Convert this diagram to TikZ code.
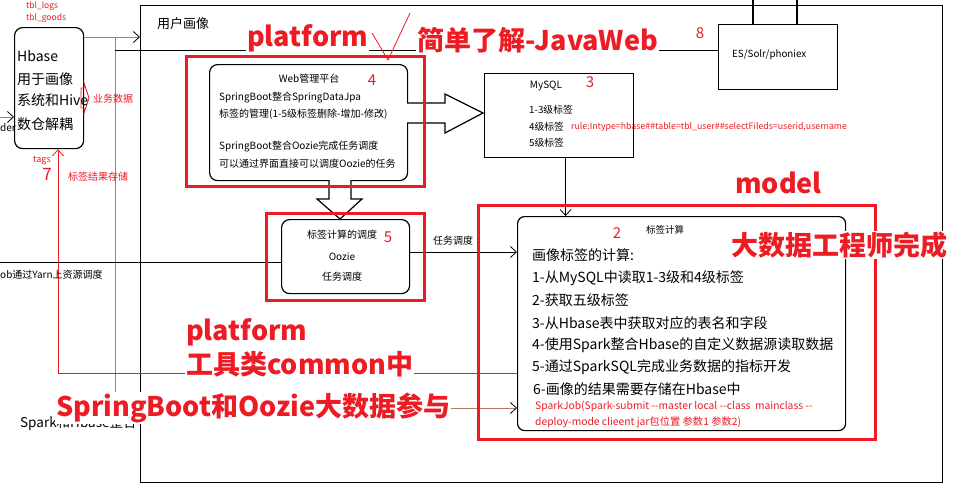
\documentclass[tikz,border=0pt]{standalone}
\usepackage{fontspec}
\setmainfont{Noto Sans CJK SC}
\usetikzlibrary{arrows.meta}
\definecolor{pred}{HTML}{ED1C24}
\definecolor{pbrown}{HTML}{B97A57}
\newcommand\fsz[1]{\fontsize{#1}{#1}\selectfont}
\begin{document}
\begin{tikzpicture}[x=1pt,y=-1pt,
  sqbox/.style={draw, line width=1.2pt, anchor=north west, inner sep=0pt},
  rbox/.style={sqbox, rounded corners=8pt},
  redframe/.style={draw=pred, line width=2.6pt, anchor=north west, inner sep=0pt},
  txt/.style={inner sep=0pt, anchor=west},
  ctxt/.style={inner sep=0pt},
  rtxt/.style={inner sep=0pt, anchor=west, text=pred},
  num/.style={inner sep=0pt, text=pred, font=\fsz{15}},
  annot/.style={inner sep=1pt, anchor=west, text=pred, fill=white, font=\bfseries\fsz{27}},
  tip/.style={-{Straight Barb[length=6pt,width=11pt,color=#1]}},
  tip/.default=black,
  conn/.style={line width=0.8pt},
  hollow/.style={draw, line width=1.2pt, fill=white}
]
\useasboundingbox (0,0) rectangle (954,501);
\fill[white] (0,0) rectangle (954,501);

% frame
\node[sqbox, minimum width=802pt, minimum height=477pt] (frame) at (140,5) {};
\node[txt, font=\fsz{13}] (title) at (157,24) {用户画像};

% boxes
\node[rbox, minimum width=69pt, minimum height=121pt] (hbase) at (14,27) {};
\node[rbox, minimum width=198pt, minimum height=116pt] (web) at (209,64) {};
\node[sqbox, minimum width=149pt, minimum height=84pt] (mysql) at (484,73) {};
\node[sqbox, minimum width=119pt, minimum height=65pt] (es) at (718,24) {};
\node[rbox, minimum width=128pt, minimum height=74pt] (oozie) at (281,219) {};
\node[rbox, rounded corners=7pt, minimum width=328pt, minimum height=214pt] (calc) at (517,216) {};

% hollow arrows
\draw[hollow] (407,103) -- (445,103) -- (445,94) -- (483,113) -- (445,133) -- (445,123) -- (407,123);
\draw[hollow] (329,180) -- (329,199) -- (317,199) -- (340,219) -- (362,199) -- (351,199) -- (351,180);

% connectors
\coordinate (bj) at (115,37);
\coordinate (bl) at (115,408);
\coordinate (hj) at (115,50);
\coordinate (rl) at (58,373);
\coordinate (oy) at (0,252);
\coordinate (yl) at (0,262);
\coordinate (dl) at (0,117);
\coordinate (e1) at (753,0);
\coordinate (e2) at (797,0);
\draw[conn, draw=pbrown, tip] (hbase.east |- bj) -- (frame.west |- bj);
\draw[conn, draw=pbrown, tip] (bj) -- (bl) -- (calc.west |- bl);
\draw[conn, draw=pbrown, tip] (dl) -- (hbase.west |- dl);
\draw[conn] (hj) -- (es.west |- hj);
\draw[conn, draw=pred, tip=pred] (calc.west |- rl) -- (rl) -- (rl |- hbase.south);
\draw[conn, tip] ([xshift=6.5pt]mysql.south) -- ([xshift=6.5pt]mysql.south |- calc.north);
\draw[conn, tip] (oozie.east |- oy) -- (calc.west |- oy);
\draw[conn] (yl) -- (oozie.west |- yl);
\draw[line width=1.2pt] (e1 |- es.north) -- (e1);
\draw[line width=1.2pt] (e2 |- es.north) -- (e2);

% red frames
\node[redframe, minimum width=238pt, minimum height=130pt] (rweb) at (185,55) {};
\node[redframe, minimum width=158pt, minimum height=87pt] (roozie) at (265,212) {};
\node[redframe, minimum width=397pt, minimum height=234pt] (rcalc) at (477,204) {};

% small red mark
\draw[pred, line width=0.9pt] (81,88) -- (84,88) -- (84,83) -- (89,98) -- (84,113) -- (84,108) -- (81,108) -- cycle;

% Hbase text
\node[txt, font=\fsz{14}] (h1) at (17,56) {Hbase};
\node[txt, font=\fsz{14}] (h2) at (17,79) {用于画像};
\node[txt, font=\fsz{14}] (h3) at (17,100) {系统和Hive};
\node[txt, font=\fsz{14}] (h4) at (17,124) {数仓解耦};
\node[rtxt, font=\fsz{8.5}] (tl1) at (26,6) {tbl\_logs};
\node[rtxt, font=\fsz{8.5}] (tl2) at (26,18) {tbl\_goods};
\node[rtxt, font=\fsz{10}] (yw) at (93,99) {业务数据};
\node[rtxt, font=\fsz{9}] (tags) at (33,160) {tags};
\node[num, font=\fsz{17}] (n7) at (47,174) {7};
\node[rtxt, font=\fsz{10}] (jg) at (68,177) {标签结果存储};
\node[txt, font=\fsz{10}] (der) at (0,128) {der};

% Web text
\node[ctxt, font=\fsz{10}] (w0) at (309,79) {Web管理平台};
\node[num] (n4) at (372,80) {4};
\node[txt, font=\fsz{10}] (w1) at (219,98) {SpringBoot整合SpringDataJpa};
\node[txt, font=\fsz{10}] (w2) at (219,114) {标签的管理(1-5级标签删除-增加-修改)};
\node[txt, font=\fsz{10}] (w3) at (219,147) {SpringBoot整合Oozie完成任务调度};
\node[txt, font=\fsz{10}] (w4) at (219,164) {可以通过界面直接可以调度Oozie的任务};

% MySQL text
\node[ctxt, font=\fsz{10}] (m0) at (546,86) {MySQL};
\node[num] (n3) at (590,82) {3};
\node[txt, font=\fsz{9.8}] (m1) at (529,110) {1-3级标签};
\node[txt, font=\fsz{9.8}] (m2) at (529,127) {4级标签};
\node[txt, font=\fsz{9.8}] (m3) at (529,143) {5级标签};
\node[rtxt, font=\fsz{8.8}] (rule) at (571,127) {rule:Intype=hbase\#\#table=tbl\_user\#\#selectFileds=userid,username};

% ES text
\node[txt, font=\fsz{9.8}] (es1) at (732,55) {ES/Solr/phoniex};
\node[num] (n8) at (700,33) {8};

% Oozie text
\node[ctxt, font=\fsz{10}] (o1) at (342,235) {标签计算的调度};
\node[num] (n5) at (388,237) {5};
\node[ctxt, font=\fsz{10}] (o2) at (342,257) {Oozie};
\node[ctxt, font=\fsz{10}] (o3) at (342,277) {任务调度};
\node[ctxt, font=\fsz{10}] (rw) at (453,241) {任务调度};
\node[txt, font=\fsz{10}] (yarn) at (0,275) {ob通过Yarn上资源调度};

% calc text
\node[ctxt, font=\fsz{9.5}] (c0) at (665,230) {标签计算};
\node[num] (n2) at (617,233) {2};
\node[txt, font=\fsz{14}] (c1) at (532,255) {画像标签的计算:};
\node[txt, font=\fsz{14}] (c2) at (532,278) {1-从MySQL中读取1-3级和4级标签};
\node[txt, font=\fsz{14}] (c3) at (532,300) {2-获取五级标签};
\node[txt, font=\fsz{14}] (c4) at (532,323) {3-从Hbase表中获取对应的表名和字段};
\node[txt, font=\fsz{14}] (c5) at (532,345) {4-使用Spark整合Hbase的自定义数据源读取数据};
\node[txt, font=\fsz{14}] (c6) at (532,367) {5-通过SparkSQL完成业务数据的指标开发};
\node[txt, font=\fsz{14}] (c7) at (533,389) {6-画像的结果需要存储在Hbase中};
\node[rtxt, font=\fsz{10.3}] (s1) at (535,406) {SparkJob(Spark-submit -{}-master local -{}-class\ \ mainclass -{}-};
\node[rtxt, font=\fsz{10.3}] (s2) at (535,422) {deploy-mode clieent jar包位置 参数1 参数2)};

\node[txt, font=\fsz{13.5}] (sh) at (20,423) {Spark和Hbase整合};

% annotations
\node[annot] (a1) at (246,38) {platform};
\node[annot] (a2) at (416,40) {简单了解-JavaWeb};
\node[annot] (a3) at (734,183) {model};
\node[annot] (a4) at (730,245) {大数据工程师完成};
\node[annot] (a5) at (185,332) {platform};
\node[annot] (a6) at (185,364) {工具类common中};
\node[annot] (a7) at (55,408) {SpringBoot和Oozie大数据参与};

% check mark
\draw[pred, line width=0.8pt] (372,33) -- (388,60) -- (410,13);
\end{tikzpicture}
\end{document}
